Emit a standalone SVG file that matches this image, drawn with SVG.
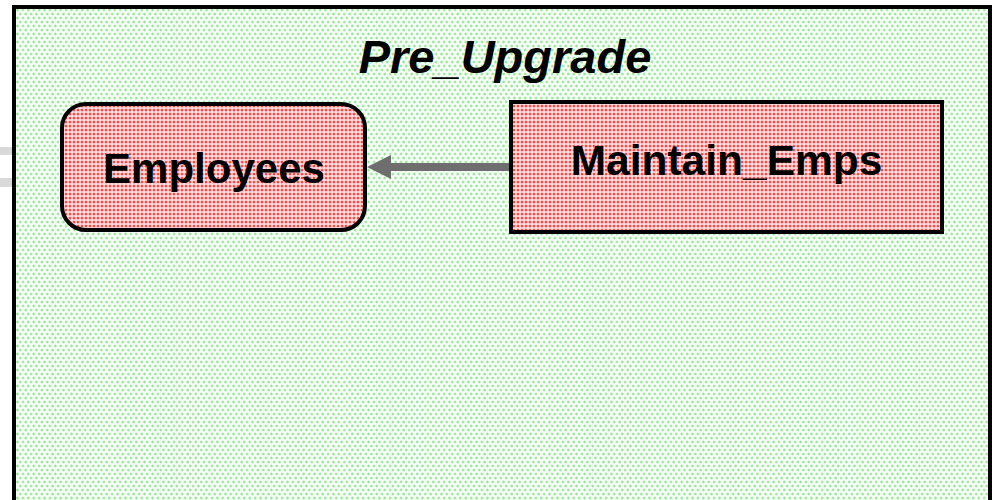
<svg xmlns="http://www.w3.org/2000/svg" width="998" height="500" viewBox="0 0 998 500">
  <style>
    .lbl { font-family: "Liberation Sans", Arial, sans-serif; font-weight: bold; fill: #000; text-anchor: middle; }
    .title { font-style: italic; }
    .box { stroke: #000; stroke-width: 4; }
  </style>
  <defs>
    <pattern id="greenDots" patternUnits="userSpaceOnUse" width="5.4" height="8">
      <rect width="5.4" height="8" fill="#ffffff"/>
      <circle cx="1.35" cy="2" r="1.7" fill="#c6f6c6"/>
      <circle cx="1.35" cy="2" r="0.95" fill="#86e886"/>
      <circle cx="4.05" cy="6" r="1.7" fill="#c6f6c6"/>
      <circle cx="4.05" cy="6" r="0.95" fill="#86e886"/>
    </pattern>
    <pattern id="redDots" patternUnits="userSpaceOnUse" width="4" height="4">
      <rect width="4" height="4" fill="#ffe0e0"/>
      <circle cx="2" cy="2" r="1.55" fill="#ff8686"/>
      <circle cx="2" cy="2" r="0.85" fill="#ff0a0a"/>
    </pattern>
    <marker id="arrowHead" markerUnits="userSpaceOnUse" markerWidth="26" markerHeight="26" refX="24" refY="13" orient="auto" overflow="visible">
      <path d="M0,1 L24,13 L0,25 Z" fill="#6e6e6e"/>
    </marker>
  </defs>

  <rect x="0" y="0" width="998" height="500" fill="#ffffff"/>
  <rect x="0" y="147" width="13" height="8" fill="#d9d9d9"/>
  <rect x="0" y="178" width="13" height="9" fill="#d9d9d9"/>

  <g id="pre_upgrade">
    <rect x="14" y="7" width="976" height="520" fill="url(#greenDots)" stroke="#000" stroke-width="4"/>
    <text class="lbl title" x="505" y="73" font-size="47">Pre_Upgrade</text>
  </g>

  <g id="connectors">
    <path d="M510,167 L380,167" stroke="#6e6e6e" stroke-width="8" fill="none"/>
    <path d="M510,167 L367,167" stroke="none" fill="none" marker-end="url(#arrowHead)"/>
  </g>

  <g id="employees">
    <rect class="box" x="62" y="104" width="303" height="126" rx="24" ry="24" fill="url(#redDots)"/>
    <text class="lbl" x="214" y="183" font-size="42">Employees</text>
  </g>

  <g id="maintain_emps">
    <rect class="box" x="511" y="102" width="431" height="130" fill="url(#redDots)"/>
    <text class="lbl" x="726.5" y="175" font-size="42.5">Maintain_Emps</text>
  </g>
</svg>
